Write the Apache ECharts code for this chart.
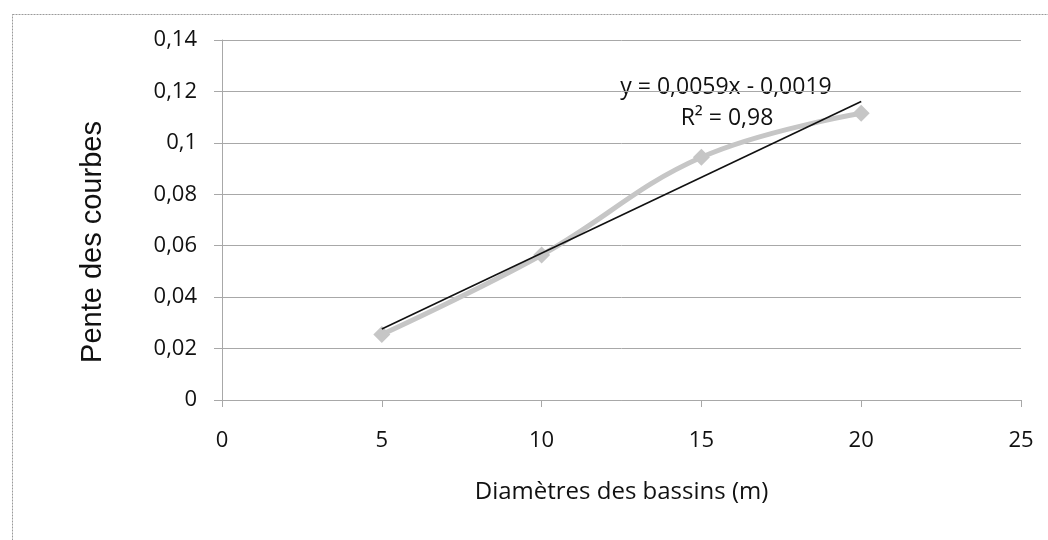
<!DOCTYPE html>
<html>
<head>
<meta charset="utf-8">
<script src="https://cdn.jsdelivr.net/npm/echarts@6/dist/echarts.min.js"></script>
<style>html,body{margin:0;padding:0;background:#fff;}#c{width:1048px;height:540px;}</style>
</head>
<body>
<div id="c"></div>
<script>
const diameters = [5, 10, 15, 20];
const slopes = [0.0255, 0.0564, 0.0944, 0.1115];
const trendX = [5, 20];
const trendY = [0.0276, 0.1161];
const equationText = 'y = 0,0059x - 0,0019';
const r2Text = 'R² = 0,98';
const xTitle = 'Diamètres des bassins (m)';
const yTitle = 'Pente des courbes';

const fmt = v => String(+v.toFixed(4)).replace('.', ',');
const chart = echarts.init(document.getElementById('c'), null, {renderer: 'canvas'});
const font = '"Open Sans", sans-serif';
chart.setOption({
  animation: false,
  backgroundColor: '#fff',
  grid: {left: 222, right: 27, top: 40, bottom: 140, containLabel: false},
  xAxis: {
    type: 'value', min: 0, max: 25, interval: 5,
    name: xTitle, nameLocation: 'middle', nameGap: 80,
    nameTextStyle: {fontFamily: font, fontSize: 24, color: '#111'},
    axisLine: {show: true, lineStyle: {color: '#a8a8a8', width: 1}},
    axisTick: {show: true, length: 7, lineStyle: {color: '#a8a8a8'}},
    axisLabel: {fontFamily: font, fontSize: 22, color: '#111', margin: 30},
    splitLine: {show: false}
  },
  yAxis: {
    type: 'value', min: 0, max: 0.14, interval: 0.02,
    axisLine: {show: true, lineStyle: {color: '#a8a8a8', width: 1}},
    axisTick: {show: true, length: 8, inside: false, lineStyle: {color: '#a8a8a8'}},
    axisLabel: {fontFamily: font, fontSize: 22, color: '#111', margin: 25, formatter: fmt},
    splitLine: {show: true, lineStyle: {color: '#a8a8a8', width: 1}}
  },
  series: [
    {
      type: 'line',
      data: diameters.map((x, i) => [x, slopes[i]]),
      smooth: 0.4,
      symbol: 'diamond', symbolSize: 17,
      lineStyle: {color: '#c6c6c6', width: 5},
      itemStyle: {color: '#c6c6c6'},
      z: 2
    },
    {
      type: 'line',
      data: trendX.map((x, i) => [x, trendY[i]]),
      symbol: 'none',
      lineStyle: {color: '#111', width: 1.6},
      z: 3
    }
  ],
  graphic: [
    {type: 'rect', left: 10, top: 12, shape: {width: 1100, height: 600},
     style: {fill: 'none', stroke: '#9a9a9a', lineWidth: 1, lineDash: [2, 1]}, silent: true},
    {type: 'text', x: 93, y: 242, rotation: Math.PI / 2,
     style: {text: yTitle, font: '29px "Liberation Sans", Arial, sans-serif', fill: '#111', textAlign: 'center', textVerticalAlign: 'middle'}},
    {type: 'text', x: 726, y: 87, style: {text: equationText, font: '23px ' + font, fill: '#111', textAlign: 'center', textVerticalAlign: 'middle'}},
    {type: 'text', x: 727, y: 118, style: {text: r2Text, font: '23px ' + font, fill: '#111', textAlign: 'center', textVerticalAlign: 'middle'}}
  ]
});
</script>
</body>
</html>
